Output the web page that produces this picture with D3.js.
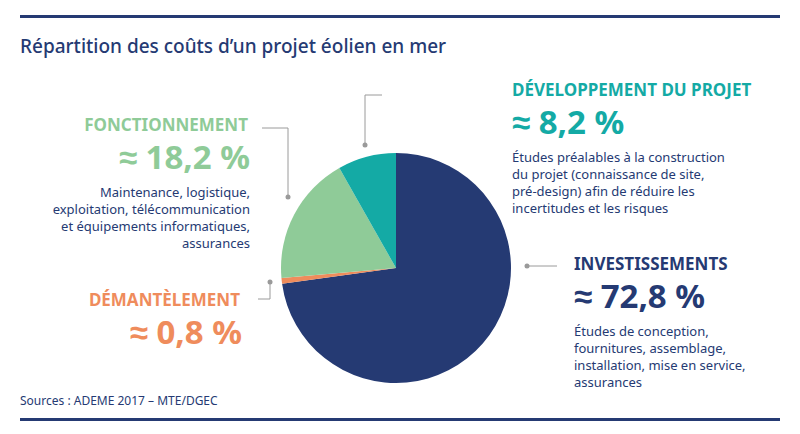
<!DOCTYPE html>
<html><head><meta charset="utf-8">
<script src="https://cdn.jsdelivr.net/npm/d3@7"></script>
<style>body{margin:0;background:#fff}text{font-family:"Noto Sans",sans-serif}</style>
</head><body><div id="chart"></div>
<script>
var labels = ["INVESTISSEMENTS", "DÉMANTÈLEMENT", "FONCTIONNEMENT", "DÉVELOPPEMENT DU PROJET"];
var values = [72.8, 0.8, 18.2, 8.2];
var valueText = ["≈ 72,8 %", "≈ 0,8 %", "≈ 18,2 %", "≈ 8,2 %"];
var colors = ["#253a73", "#ef8c5c", "#8fcb98", "#14aaa5"];
var descs = [
  ["Études de conception,", "fournitures, assemblage,", "installation, mise en service,", "assurances"],
  [],
  ["Maintenance, logistique,", "exploitation, télécommunication", "et équipements informatiques,", "assurances"],
  ["Études préalables à la construction", "du projet (connaissance de site,", "pré-design) afin de réduire les", "incertitudes et les risques"]
];
var navy = "#253a73";

var svg = d3.select("#chart").append("svg").attr("width", 800).attr("height", 434);

svg.append("rect").attr("x", 20).attr("y", 15).attr("width", 760).attr("height", 3).attr("fill", navy);
svg.append("rect").attr("x", 20).attr("y", 418).attr("width", 760).attr("height", 3).attr("fill", navy);
svg.append("text").attr("x", 20).attr("y", 53).attr("font-size", 19).attr("font-weight", 500)
  .attr("fill", navy).text("Répartition des coûts d’un projet éolien en mer");
svg.append("text").attr("x", 20).attr("y", 405).attr("font-size", 12).attr("fill", navy)
  .text("Sources : ADEME 2017 – MTE/DGEC");

var pie = d3.pie().sort(null)(values);
var arc = d3.arc().innerRadius(0).outerRadius(115);
svg.append("g").attr("transform", "translate(396,268)")
  .selectAll("path").data(pie).enter().append("path")
  .attr("d", arc).attr("fill", (d, i) => colors[i]);

// leader lines
var leaders = [
  [[527, 266], [557, 266]],
  [[270, 282], [270, 299], [258, 299]],
  [[288, 197], [288, 128], [262, 128]],
  [[365, 145], [365, 95], [382, 95]]
];
leaders.forEach(function(pts) {
  svg.append("path").attr("d", d3.line()(pts)).attr("fill", "none").attr("stroke", "#9a9a9a").attr("stroke-width", 1);
  svg.append("circle").attr("cx", pts[0][0]).attr("cy", pts[0][1]).attr("r", 2.5).attr("fill", "#9a9a9a");
});

var blocks = [
  {x: 574, anchor: "start", y: 270},
  {x: 240, anchor: "end", y: 306},
  {x: 248, anchor: "end", y: 131},
  {x: 512, anchor: "start", y: 96}
];
var textColors = [navy, "#ef8c5c", "#8fcb98", "#14aaa5"];
blocks.forEach(function(b, i) {
  var g = svg.append("g").attr("text-anchor", b.anchor);
  g.append("text").attr("x", b.x).attr("y", b.y).attr("font-size", 17).attr("font-weight", 700)
    .attr("fill", textColors[i]).text(labels[i]);
  g.append("text").attr("x", b.x + (b.anchor === "end" ? 2 : 0)).attr("y", b.y + 38).attr("font-size", 33).attr("font-weight", 700)
    .attr("fill", textColors[i]).text(valueText[i]);
  descs[i].forEach(function(line, j) {
    g.append("text").attr("x", b.x + (b.anchor === "end" ? 2 : 0)).attr("y", b.y + 66 + j * 17)
      .attr("font-size", 13).attr("fill", navy).text(line);
  });
});
</script></body></html>
